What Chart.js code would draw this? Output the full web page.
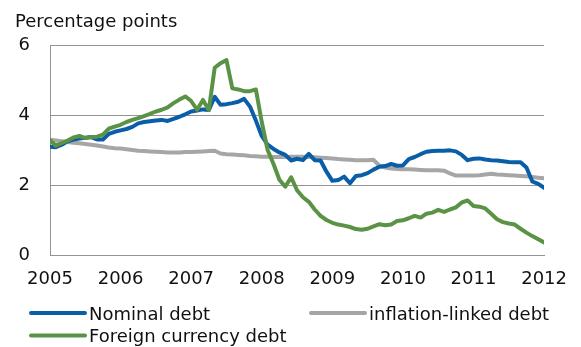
<!DOCTYPE html>
<html>
<head>
<meta charset="utf-8">
<script src="https://cdn.jsdelivr.net/npm/chart.js@4/dist/chart.umd.min.js"></script>
<style>
  html, body { margin: 0; padding: 0; background: #ffffff; }
  #wrap { position: relative; width: 581px; height: 347px; }
</style>
</head>
<body>
<div id="wrap"><canvas id="chart" width="581" height="347"></canvas></div>
<script>
// Monthly spreads, January 2005 to January 2012, percentage points
const firstYear = 2005;
const yearTicks = [2005, 2006, 2007, 2008, 2009, 2010, 2011, 2012];
const yTicks = [0, 2, 4, 6];

const nominalDebt = [
  3.09, 3.08, 3.15, 3.25, 3.30, 3.33, 3.35, 3.37, 3.30, 3.30, 3.46, 3.52,
  3.56, 3.60, 3.66, 3.76, 3.80, 3.82, 3.84, 3.86, 3.83, 3.89, 3.95, 4.02,
  4.10, 4.13, 4.16, 4.14, 4.52, 4.29, 4.31, 4.34, 4.38, 4.46, 4.24, 3.84,
  3.40, 3.15, 3.03, 2.93, 2.86, 2.70, 2.75, 2.71, 2.89, 2.71, 2.70, 2.38,
  2.12, 2.14, 2.24, 2.05, 2.26, 2.28, 2.34, 2.44, 2.52, 2.54, 2.60, 2.55,
  2.56, 2.74, 2.80, 2.88, 2.95, 2.97, 2.98, 2.98, 2.99, 2.96, 2.86, 2.71,
  2.75, 2.76, 2.73, 2.71, 2.70, 2.68, 2.66, 2.65, 2.65, 2.50, 2.10, 2.03,
  1.92
];

const inflationLinkedDebt = [
  3.29, 3.27, 3.25, 3.23, 3.21, 3.19, 3.17, 3.15, 3.13, 3.10, 3.07, 3.05,
  3.04, 3.02, 3.00, 2.98, 2.97, 2.96, 2.95, 2.94, 2.93, 2.93, 2.93, 2.94,
  2.94, 2.95, 2.96, 2.97, 2.98, 2.90, 2.88, 2.87, 2.86, 2.85, 2.83, 2.82,
  2.81, 2.81, 2.80, 2.80, 2.80, 2.81, 2.81, 2.81, 2.80, 2.79, 2.78, 2.77,
  2.76, 2.74, 2.73, 2.72, 2.71, 2.71, 2.71, 2.72, 2.55, 2.50, 2.47, 2.46,
  2.45, 2.45, 2.44, 2.43, 2.42, 2.42, 2.42, 2.41, 2.33, 2.27, 2.27, 2.27,
  2.27, 2.28, 2.30, 2.32, 2.30, 2.29, 2.28, 2.27, 2.26, 2.25, 2.23, 2.21,
  2.19
];

const foreignCurrencyDebt = [
  3.28, 3.12, 3.20, 3.27, 3.36, 3.40, 3.34, 3.37, 3.38, 3.44, 3.61, 3.67,
  3.72, 3.80, 3.86, 3.91, 3.97, 4.03, 4.10, 4.15, 4.22, 4.34, 4.44, 4.53,
  4.40, 4.15, 4.43, 4.14, 5.35, 5.48, 5.57, 4.76, 4.73, 4.68, 4.68, 4.73,
  3.80, 3.00, 2.60, 2.15, 1.95, 2.22, 1.85, 1.65, 1.52, 1.30, 1.12, 1.00,
  0.92, 0.87, 0.84, 0.80, 0.74, 0.72, 0.75, 0.82, 0.88, 0.85, 0.87, 0.97,
  0.99, 1.05, 1.12, 1.07, 1.18, 1.21, 1.29, 1.23, 1.30, 1.36, 1.50, 1.56,
  1.40, 1.38, 1.33, 1.18, 1.02, 0.94, 0.90, 0.87, 0.75, 0.64, 0.54, 0.45,
  0.36
];

const seriesNames = ['Nominal debt', 'inflation-linked debt', 'Foreign currency debt'];
const seriesColors = ['#0a5ea8', '#a6a6a6', '#5b9346'];

const FONT = '"DejaVu Sans", sans-serif';
const GRID = '#939393';

function toPoints(values) {
  return values.map((v, i) => ({ x: firstYear + i / 12, y: v }));
}

// Axis caption and the two-column legend under the plot
const decorations = {
  id: 'decorations',
  afterDraw(chart) {
    const ctx = chart.ctx;
    ctx.save();
    ctx.fillStyle = '#111111';
    ctx.font = '18px ' + FONT;
    ctx.textAlign = 'left';
    ctx.textBaseline = 'alphabetic';
    ctx.fillText('Percentage points', 15, 27);

    const slots = [
      { x: 31, y: 313 },
      { x: 311, y: 313 },
      { x: 31, y: 335.5 }
    ];
    chart.data.datasets.forEach((ds, i) => {
      const s = slots[i];
      ctx.strokeStyle = ds.borderColor;
      ctx.lineWidth = 4;
      ctx.lineCap = 'round';
      ctx.beginPath();
      ctx.moveTo(s.x, s.y);
      ctx.lineTo(s.x + 54, s.y);
      ctx.stroke();
      ctx.fillStyle = '#111111';
      ctx.fillText(ds.label, s.x + 58, s.y + 6.5);
    });
    ctx.restore();
  }
};

const datasets = [nominalDebt, inflationLinkedDebt, foreignCurrencyDebt].map((vals, i) => ({
  label: seriesNames[i],
  data: toPoints(vals),
  borderColor: seriesColors[i],
  backgroundColor: seriesColors[i],
  borderWidth: 4,
  pointRadius: 0,
  tension: 0,
  borderJoinStyle: 'round',
  borderCapStyle: 'round',
  order: [1, 2, 0][i]
}));

new Chart(document.getElementById('chart'), {
  type: 'line',
  data: { datasets },
  options: {
    responsive: false,
    animation: false,
    events: [],
    layout: { padding: { left: 0, right: 30, top: 45, bottom: 62 } },
    plugins: {
      legend: { display: false },
      title: { display: false },
      tooltip: { enabled: false }
    },
    scales: {
      x: {
        type: 'linear',
        min: yearTicks[0],
        max: yearTicks[yearTicks.length - 1],
        afterBuildTicks(scale) {
          scale.ticks = yearTicks.map(v => ({ value: v }));
        },
        afterFit(scale) { scale.height = 30; },
        grid: { display: false, drawTicks: false },
        border: { display: true, color: GRID, width: 1 },
        ticks: {
          padding: 14,
          maxRotation: 0,
          autoSkip: false,
          color: '#111111',
          font: { family: FONT, size: 18 },
          callback: v => String(v)
        }
      },
      y: {
        min: 0,
        max: 6,
        afterBuildTicks(scale) {
          scale.ticks = yTicks.map(v => ({ value: v }));
        },
        afterFit(scale) { scale.width = 50; },
        grid: { color: GRID, lineWidth: 1, drawTicks: false },
        border: { display: true, color: GRID, width: 1 },
        ticks: {
          padding: 20,
          color: '#111111',
          font: { family: FONT, size: 18 },
          callback: v => String(v)
        }
      }
    }
  },
  plugins: [decorations]
});
</script>
</body>
</html>
